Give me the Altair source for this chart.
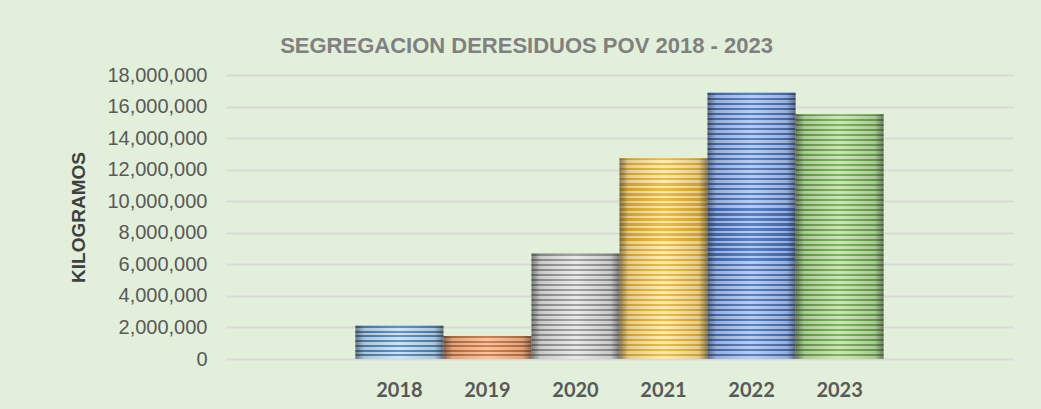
import altair as alt
import pandas as pd

years = ["2018", "2019", "2020", "2021", "2022", "2023"]
kilos = [2100000, 1450000, 6680000, 12730000, 16880000, 15520000]
y_ticks = [0, 2000000, 4000000, 6000000, 8000000, 10000000, 12000000, 14000000, 16000000, 18000000]
# empty slots on both sides of the year categories (the chart leaves room there)
x_domain = [" "] + years + ["  "]

# (dark stripe, light stripe) per year
palette = {
    "2018": ("#4a84b8", "#c6def2"),
    "2019": ("#cc6d35", "#f5bc95"),
    "2020": ("#959595", "#e5e5e5"),
    "2021": ("#eab32a", "#ffe7a6"),
    "2022": ("#3f6fc2", "#afc5ec"),
    "2023": ("#6aa845", "#c3e2ae"),
}

df = pd.DataFrame({"year": years, "kg": kilos})

PLOT_W, PLOT_H = 787, 284
Y_MAX = 18000000


def stripes(dark, light, value, period=5):
    n = max(3, round(value / Y_MAX * PLOT_H / period))
    stops = []
    for i in range(n):
        a = i / n
        b = (i + 0.45) / n
        c = (i + 1) / n
        stops.append({"offset": a, "color": dark})
        stops.append({"offset": b, "color": dark})
        stops.append({"offset": b, "color": light})
        stops.append({"offset": c, "color": light})
    return alt.Gradient(gradient="linear", x1=0, x2=0, y1=0, y2=1, stops=stops)


x_enc = alt.X(
    "year:N",
    scale=alt.Scale(domain=x_domain, paddingInner=0, paddingOuter=0.47),
    axis=alt.Axis(
        title=None, labelAngle=0, ticks=False, domain=False,
        labelFont="Lato", labelFontSize=20, labelFontWeight="bold",
        labelColor="#595959", labelPadding=21,
    ),
)
y_enc = alt.Y(
    "kg:Q",
    scale=alt.Scale(domain=[0, Y_MAX], nice=False),
    axis=alt.Axis(
        values=y_ticks, format=",d", title="KILOGRAMOS",
        titleFont="Liberation Sans", titleFontSize=19, titleFontWeight="bold",
        titleColor="#404040", titlePadding=18,
        labelFont="Liberation Sans", labelFontSize=20, labelColor="#595959",
        labelPadding=19, ticks=False, domain=False,
        gridColor="#d9d9d9", gridWidth=2,
    ),
)

base = alt.Chart(df)
layers = []
for yr, val in zip(years, kilos):
    dark, light = palette[yr]
    layers.append(
        base.transform_filter(alt.datum.year == yr)
        .mark_bar(fill=stripes(dark, light, val), strokeWidth=0)
        .encode(x=x_enc, y=y_enc)
    )

shade = alt.Gradient(
    gradient="linear", x1=0, x2=1, y1=0, y2=0,
    stops=[
        alt.GradientStop(offset=0, color="rgba(40,40,40,0.55)"),
        alt.GradientStop(offset=0.1, color="rgba(40,40,40,0.15)"),
        alt.GradientStop(offset=0.5, color="rgba(255,255,255,0.12)"),
        alt.GradientStop(offset=0.9, color="rgba(40,40,40,0.15)"),
        alt.GradientStop(offset=1, color="rgba(40,40,40,0.55)"),
    ],
)
layers.append(base.mark_bar(fill=shade, strokeWidth=0).encode(x=x_enc, y=y_enc))

chart = (
    alt.layer(*layers)
    .properties(
        width=PLOT_W,
        height=PLOT_H,
        title=alt.TitleParams(
            "SEGREGACION DERESIDUOS POV 2018 - 2023",
            font="Liberation Sans", fontSize=22, fontWeight="bold",
            color="#808080", anchor="middle", dx=-93, dy=32,
            baseline="alphabetic", offset=22,
        ),
        autosize=alt.AutoSizeParams(type="none"),
        padding={"left": 226, "top": 75, "right": 28, "bottom": 50},
        background="#e2efda",
    )
    .configure_view(stroke=None)
)

chart.save("out.html", embed_options={"renderer": "svg", "actions": False})
